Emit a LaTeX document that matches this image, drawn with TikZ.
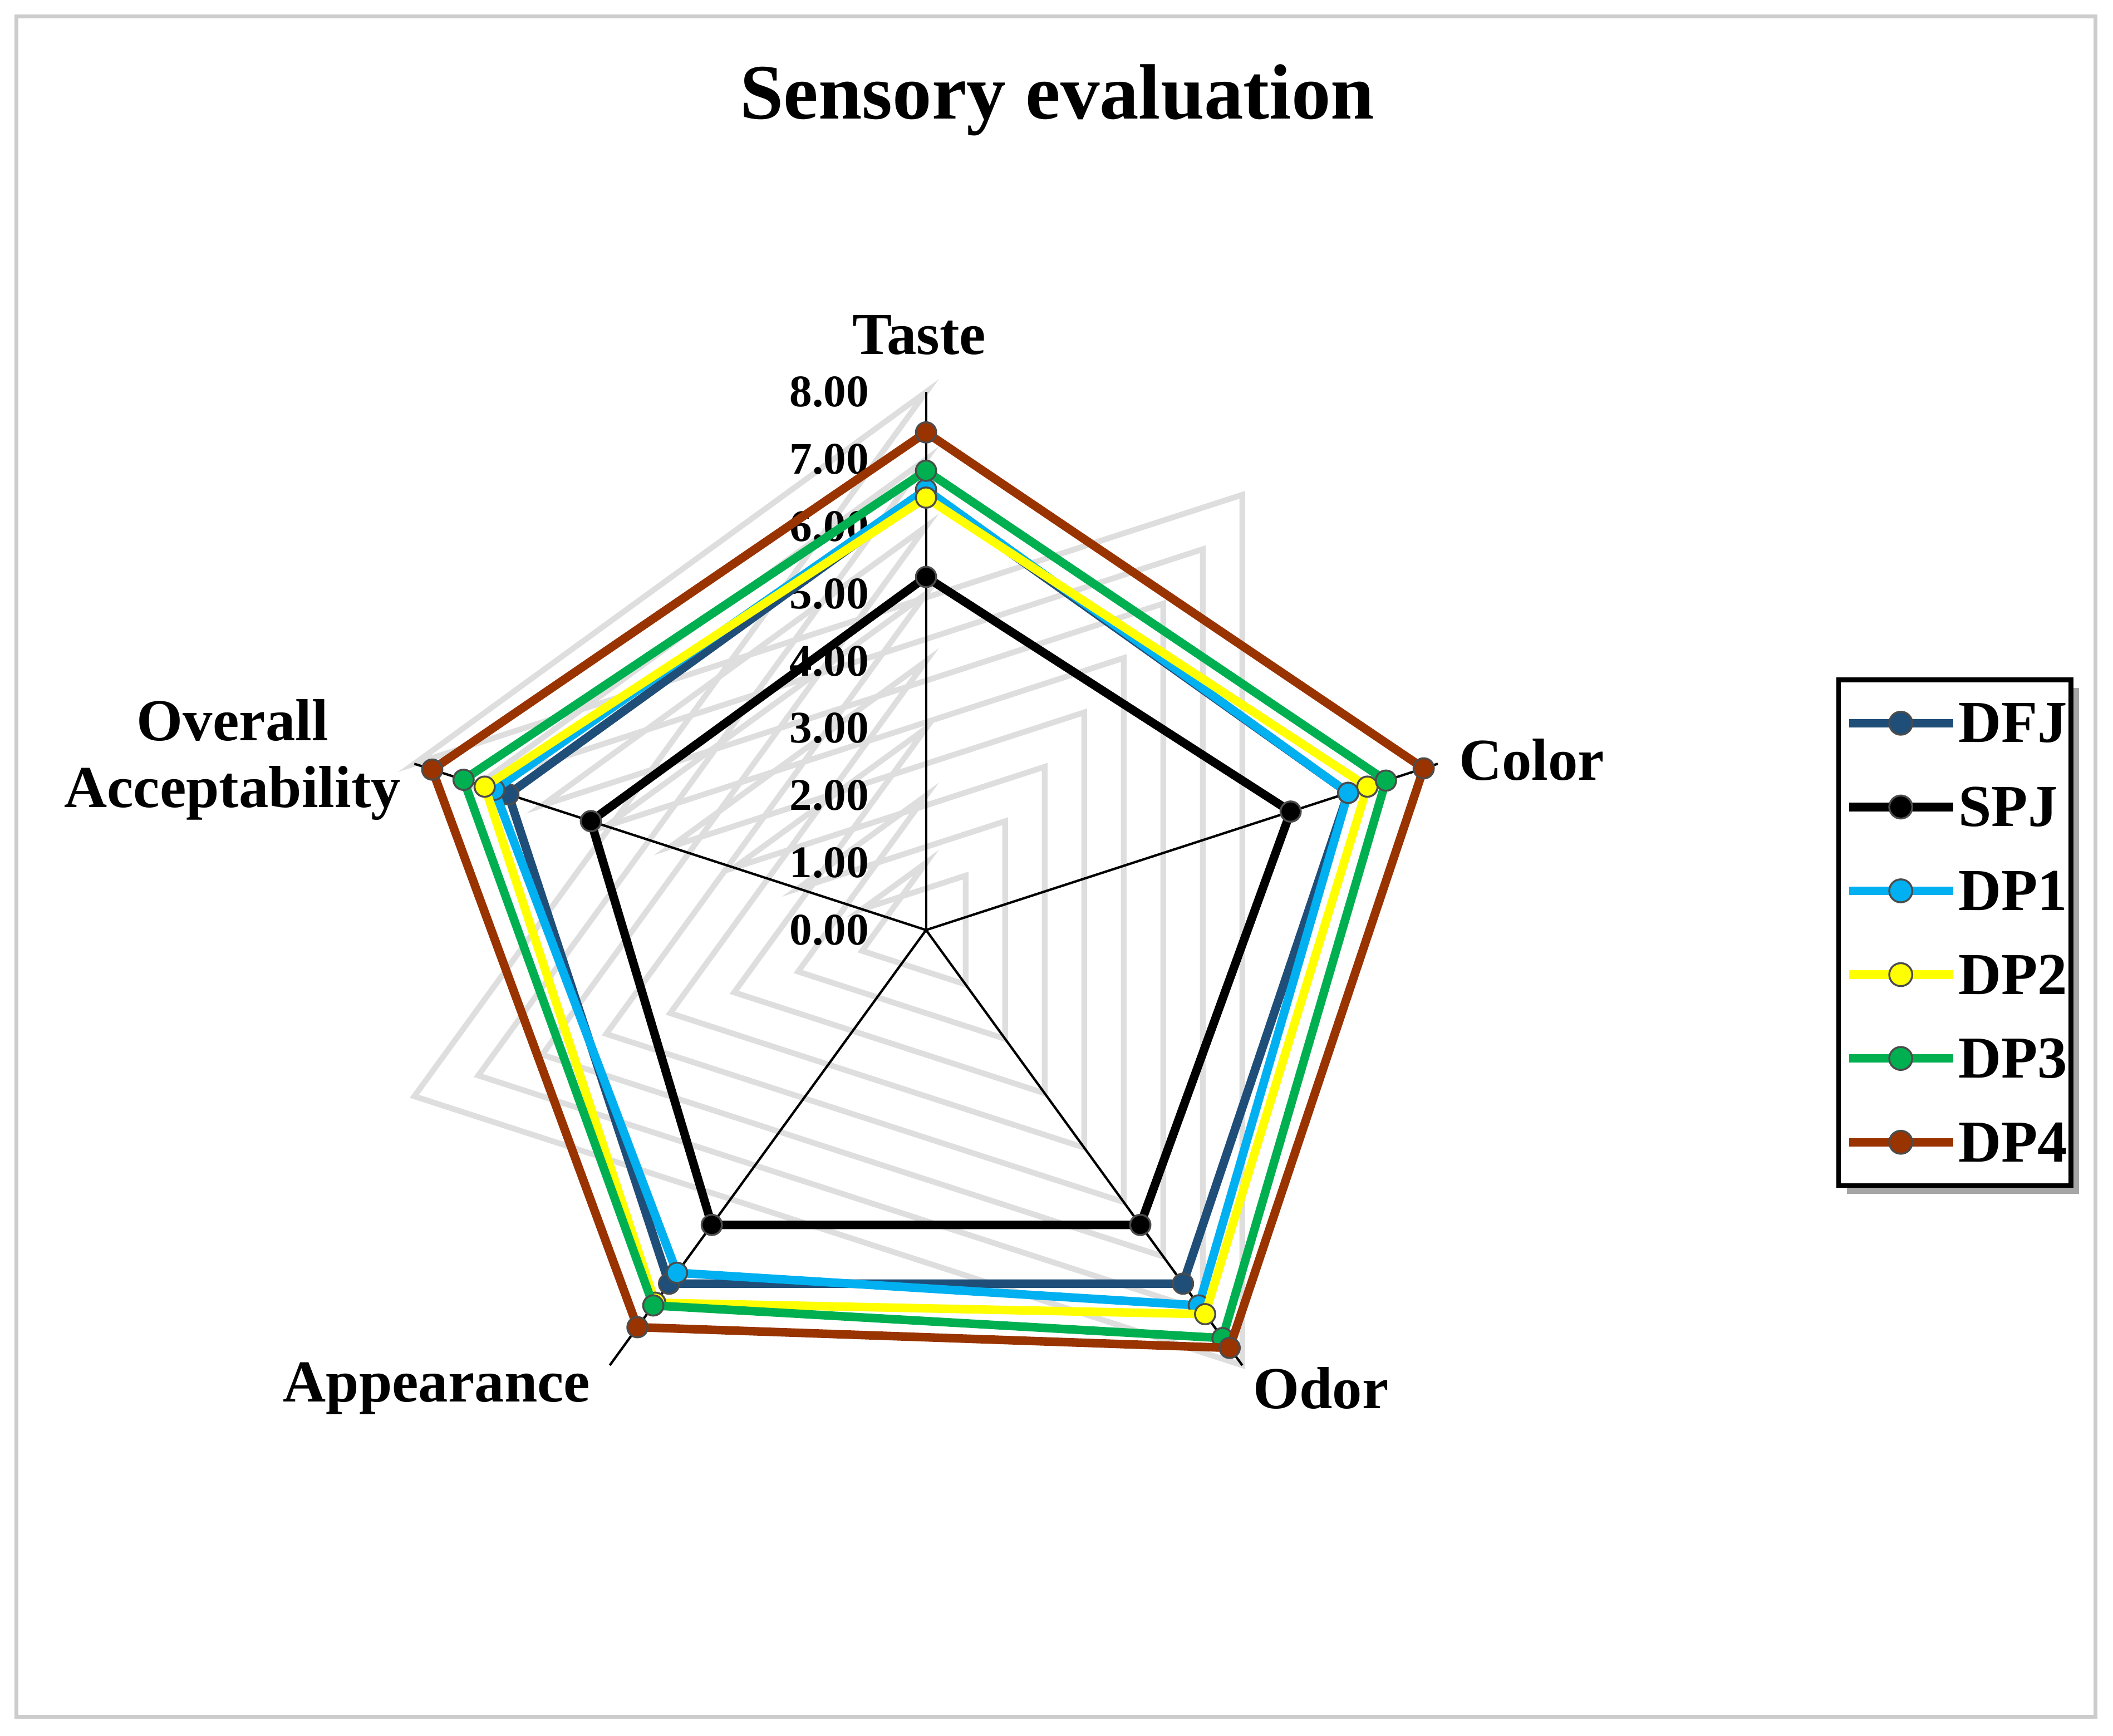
\documentclass[tikz,border=0pt]{standalone}
\usepackage{fontspec}
\setmainfont{Liberation Serif}
\begin{document}
\begin{tikzpicture}[x=0.01cm,y=-0.01cm,
 ser/.style={line width=1.8pt,line join=round},
 mk/.style={circle,inner sep=0pt,minimum size=0.15cm,draw=black!70,line width=0.4pt},
 ax/.style={font=\bfseries\fontsize{12.5}{14}\selectfont},
 tk/.style={font=\bfseries\fontsize{9.5}{11}\selectfont,anchor=east}]
\definecolor{cDFJ}{HTML}{1F4E79}\definecolor{cSPJ}{HTML}{000000}
\definecolor{cDP1}{HTML}{00B0F0}\definecolor{cDP2}{HTML}{FFFF00}
\definecolor{cDP3}{HTML}{00B050}\definecolor{cDP4}{HTML}{993300}
\useasboundingbox (0,0) rectangle (1563,1284);
\draw[black!20,line width=0.8pt] (12,12) rectangle (1550,1270);
\node[font=\bfseries\fontsize{16.5}{18}\selectfont] (title) at (782,74) {Sensory evaluation};
\coordinate (O) at (685,688);
\def\u{49.75}
% grid
\foreach \k in {1,...,8}{
 \draw[black!15,line width=1.2pt] ({90}:{\k*\u}) ++(685,-688) ;
 \draw[black!13,line width=1.2pt,shift={(O)}] (90:{-\k*\u}) -- (-18:{-\k*\u}) -- (-126:{-\k*\u}) -- (-234:{-\k*\u}) -- (-342:{-\k*\u}) -- cycle;
}
% axes (y is flipped, so use negative angles)
\foreach \a/\n in {-90/A,-18/B,54/C,126/D,198/E}{
 \draw[black,line width=0.5pt,shift={(O)}] (0,0) coordinate (c\n) -- (\a:{8*\u}) coordinate (e\n);
}
\foreach \v in {0,...,8}{\node[tk] (t\v) at (655,{688-\v*\u}) {\v.00};}
\node[ax] (lT) at (680,248) {Taste};
\node[ax] (lC) at (1133,562) {Color};
\node[ax] (lO) at (977,1027) {Odor};
\node[ax] (lA) at (323,1027) {Appearance};
\node[ax,align=center] (lOA) at (172,562) {Overall\\Acceptability};
% series
\foreach \nm/\t/\c/\o/\p/\q in {
 DFJ/6.5/6.6/6.5/6.5/6.53, SPJ/5.25/5.7/5.42/5.42/5.24,
 DP1/6.55/6.6/6.9/6.3/6.75, DP2/6.43/6.9/7.06/6.85/6.9,
 DP3/6.83/7.19/7.5/6.9/7.23, DP4/7.4/7.78/7.68/7.3/7.72}{
 \begin{scope}[shift={(O)}]
 \draw[ser,c\nm] (-90:{\t*\u}) -- (-18:{\c*\u}) -- (54:{\o*\u}) -- (126:{\p*\u}) -- (198:{\q*\u}) -- cycle;
 \foreach \a/\r in {-90/\t,-18/\c,54/\o,126/\p,198/\q}{\node[mk,fill=c\nm] at (\a:{\r*\u}) {};}
 \end{scope}
}
% legend
\fill[black!35] (1366,509) rectangle (1538,883);
\draw[fill=white,line width=1pt] (1360,503) rectangle (1532,877);
\foreach \nm [count=\i] in {DFJ,SPJ,DP1,DP2,DP3,DP4}{
 \draw[ser,c\nm] (1368,{473+62*\i}) -- (1445,{473+62*\i});
 \node[mk,fill=c\nm,minimum size=0.17cm] (m\nm) at (1406,{473+62*\i}) {};
 \node[anchor=west,font=\bfseries\fontsize{12.5}{14}\selectfont,inner sep=0pt] (g\nm) at (1448,{473+62*\i}) {\nm};
}
\end{tikzpicture}
\end{document}
